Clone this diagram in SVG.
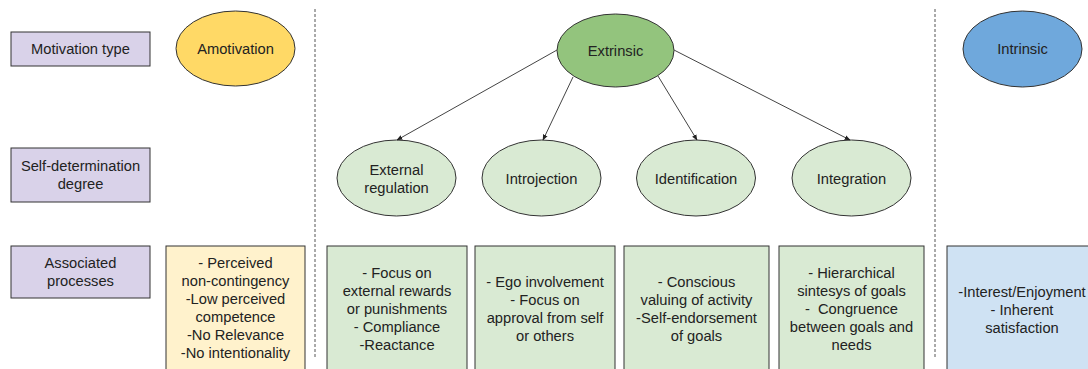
<svg xmlns="http://www.w3.org/2000/svg" width="1088" height="369" viewBox="0 0 1088 369">
  <style>
    text { font-family: "Liberation Sans", Arial, sans-serif; font-size: 14.7px; fill: #222; text-anchor: middle; white-space: pre; }
    .label { fill: #d9d2e9; stroke: #333; stroke-width: 1; }
    .shape { stroke: #333; stroke-width: 1; }
    .sub { fill: #d9ead3; stroke: #333; stroke-width: 1; }
    .divider { stroke: #555; stroke-width: 1; stroke-dasharray: 3 2; fill: none; }
    .edge { stroke: #444; stroke-width: 1; fill: none; marker-end: url(#arrow); }
  </style>
  <defs>
    <marker id="arrow" viewBox="0 0 10 10" refX="9" refY="5" markerWidth="6" markerHeight="6" orient="auto">
      <path d="M0,1 L10,5 L0,9 z" fill="#222"/>
    </marker>
  </defs>
  <rect width="1088" height="369" fill="#fff"/>

  <!-- column dividers -->
  <g id="dividers">
    <line class="divider" x1="315" y1="9" x2="315" y2="358"/>
    <line class="divider" x1="935" y1="9" x2="935" y2="358"/>
  </g>

  <!-- row labels -->
  <g id="row-motivation-type">
    <rect class="label" x="11" y="32" width="139" height="34"/>
    <text x="80.5" y="54">Motivation type</text>
  </g>
  <g id="row-self-determination">
    <rect class="label" x="11" y="148" width="139" height="54"/>
    <text x="80.5" y="171">Self-determination</text>
    <text x="80.5" y="189">degree</text>
  </g>
  <g id="row-associated">
    <rect class="label" x="11" y="246" width="139" height="52"/>
    <text x="80.5" y="268">Associated</text>
    <text x="80.5" y="286">processes</text>
  </g>

  <!-- motivation types -->
  <g id="amotivation">
    <ellipse class="shape" cx="235.5" cy="48.5" rx="59.5" ry="37.5" fill="#ffd966"/>
    <text x="235.5" y="54">Amotivation</text>
  </g>
  <g id="extrinsic">
    <ellipse class="shape" cx="615.5" cy="50.5" rx="58.5" ry="36.5" fill="#93c47d"/>
    <text x="615.5" y="56">Extrinsic</text>
  </g>
  <g id="intrinsic">
    <ellipse class="shape" cx="1022.5" cy="49" rx="59.5" ry="38" fill="#6fa8dc"/>
    <text x="1022.5" y="54">Intrinsic</text>
  </g>

  <!-- regulation styles -->
  <g id="external-regulation">
    <ellipse class="sub" cx="396.5" cy="178" rx="59.5" ry="38"/>
    <text x="396.5" y="175">External</text>
    <text x="396.5" y="193">regulation</text>
  </g>
  <g id="introjection">
    <ellipse class="sub" cx="541.5" cy="178" rx="59.5" ry="38"/>
    <text x="541.5" y="184">Introjection</text>
  </g>
  <g id="identification">
    <ellipse class="sub" cx="696" cy="178" rx="59.5" ry="38"/>
    <text x="696" y="184">Identification</text>
  </g>
  <g id="integration">
    <ellipse class="sub" cx="851.5" cy="178" rx="59.5" ry="38"/>
    <text x="851.5" y="184">Integration</text>
  </g>

  <!-- associated processes -->
  <g id="proc-amotivation">
    <rect class="shape" x="166" y="246" width="139" height="128" fill="#fff2cc"/>
    <text x="235.5" y="268">- Perceived</text>
    <text x="235.5" y="286">non-contingency</text>
    <text x="235.5" y="304">-Low perceived</text>
    <text x="235.5" y="322">competence</text>
    <text x="235.5" y="340">-No Relevance</text>
    <text x="235.5" y="358">-No intentionality</text>
  </g>
  <g id="proc-external">
    <rect class="sub" x="327" y="246" width="140" height="128"/>
    <text x="397" y="278">- Focus on</text>
    <text x="397" y="296">external rewards</text>
    <text x="397" y="314">or punishments</text>
    <text x="397" y="332">- Compliance</text>
    <text x="397" y="350">-Reactance</text>
  </g>
  <g id="proc-introjection">
    <rect class="sub" x="475" y="246" width="140" height="128"/>
    <text x="545" y="287">- Ego involvement</text>
    <text x="545" y="305">- Focus on</text>
    <text x="545" y="323">approval from self</text>
    <text x="545" y="341">or others</text>
  </g>
  <g id="proc-identification">
    <rect class="sub" x="624" y="246" width="145" height="128"/>
    <text x="696.5" y="287">- Conscious</text>
    <text x="696.5" y="305">valuing of activity</text>
    <text x="696.5" y="323">-Self-endorsement</text>
    <text x="696.5" y="341">of goals</text>
  </g>
  <g id="proc-integration">
    <rect class="sub" x="779" y="246" width="145" height="128"/>
    <text x="851.5" y="278">- Hierarchical</text>
    <text x="851.5" y="296">sintesys of goals</text>
    <text x="851.5" y="314" xml:space="preserve">-  Congruence</text>
    <text x="851.5" y="332">between goals and</text>
    <text x="851.5" y="350">needs</text>
  </g>
  <g id="proc-intrinsic">
    <rect class="shape" x="947" y="246" width="150" height="128" fill="#cfe2f3"/>
    <text x="1022" y="297">-Interest/Enjoyment</text>
    <text x="1022" y="315">- Inherent</text>
    <text x="1022" y="333">satisfaction</text>
  </g>

  <!-- connectors -->
  <g id="connectors">
    <line class="edge" x1="557" y1="50" x2="397" y2="140"/>
    <line class="edge" x1="573" y1="77" x2="543" y2="140"/>
    <line class="edge" x1="658" y1="76" x2="697" y2="140"/>
    <line class="edge" x1="674" y1="50" x2="850" y2="140"/>
  </g>
</svg>
